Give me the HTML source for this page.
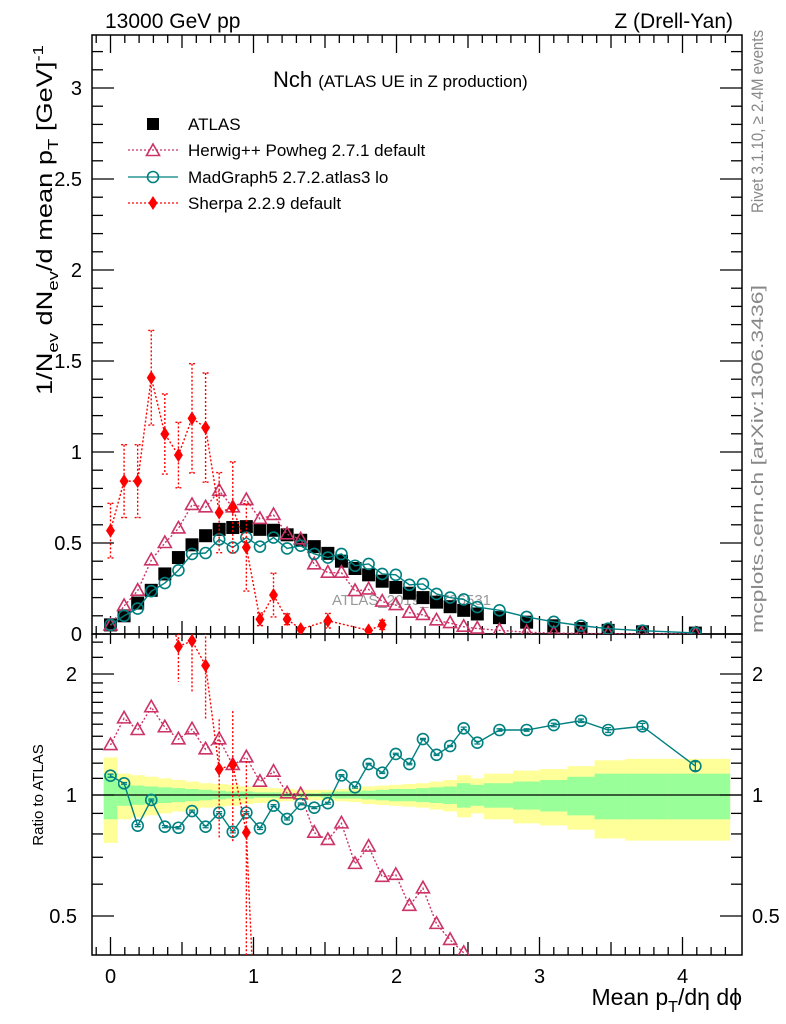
<!DOCTYPE html>
<html><head><meta charset="utf-8"><style>
html,body{margin:0;padding:0;background:#fff;width:786px;height:1024px;overflow:hidden;}
svg{display:block;font-family:"Liberation Sans",sans-serif;overflow:hidden;}
</style></head><body>
<svg id="chart" width="786" height="1024" viewBox="0 0 786 1024" xmlns="http://www.w3.org/2000/svg">
<defs>
<clipPath id="clipMain"><rect x="92" y="35" width="650" height="599"/></clipPath>
<clipPath id="clipRatio"><rect x="92" y="634" width="650" height="321"/></clipPath>
</defs>
<text x="105" y="28" font-size="21">13000 GeV pp</text>
<text x="733" y="28" font-size="21" text-anchor="end">Z (Drell-Yan)</text>
<text x="273" y="87" font-size="22">Nch <tspan font-size="17">(ATLAS UE in Z production)</tspan></text>
<text transform="translate(52,395) rotate(-90)" font-size="22" textLength="350" lengthAdjust="spacingAndGlyphs">1/N<tspan font-size="15" dy="6">ev</tspan><tspan dy="-6"> dN</tspan><tspan font-size="15" dy="6">ev</tspan><tspan dy="-6">/d mean p</tspan><tspan font-size="15" dy="6">T</tspan><tspan dy="-6">  [GeV]</tspan><tspan font-size="15" dy="-9">-1</tspan></text>
<text transform="translate(43,795) rotate(-90)" text-anchor="middle" font-size="15">Ratio to ATLAS</text>
<text x="742" y="1005" text-anchor="end" font-size="23">Mean p<tspan font-size="16" dy="7">T</tspan><tspan dy="-7">/dη dϕ</tspan></text>
<text transform="translate(763,213) rotate(-90)" font-size="17" fill="#888" textLength="183" lengthAdjust="spacingAndGlyphs">Rivet 3.1.10, ≥ 2.4M events</text>
<text transform="translate(763,633) rotate(-90)" font-size="17" fill="#888" textLength="348" lengthAdjust="spacingAndGlyphs">mcplots.cern.ch [arXiv:1306.3436]</text>
<text x="332" y="605" font-size="15" fill="#999">ATLAS_2019_I1736531</text>
<g id="bands" clip-path="url(#clipRatio)"></g>
<g id="axes"></g>
<g id="mainSeries" clip-path="url(#clipMain)"></g>
<g id="ratioSeries" clip-path="url(#clipRatio)"></g>
<g id="legend"></g>
</svg>
<script>
const xVals=[0,0.095,0.19,0.285,0.38,0.475,0.57,0.665,0.76,0.855,0.95,1.045,1.14,1.235,1.33,1.425,1.52,1.615,1.71,1.805,1.9,1.995,2.09,2.185,2.28,2.375,2.47,2.565,2.72,2.91,3.10,3.29,3.48,3.72,4.09];
const binEdges=[-0.0475,0.0475,0.1425,0.2375,0.3325,0.4275,0.5225,0.6175,0.7125,0.8075,0.9025,0.9975,1.0925,1.1875,1.2825,1.3775,1.4725,1.5675,1.6625,1.7575,1.8525,1.9475,2.0425,2.1375,2.2325,2.3275,2.4225,2.5175,2.6125,2.815,3.005,3.195,3.385,3.60,3.90,4.33];
const atlasVals=[0.05,0.10,0.17,0.24,0.33,0.42,0.49,0.54,0.575,0.585,0.59,0.575,0.57,0.545,0.515,0.48,0.443,0.40,0.36,0.325,0.29,0.256,0.224,0.20,0.175,0.15,0.13,0.11,0.09,0.065,0.045,0.03,0.02,0.012,0.005];
const herwigVals=[0.047,0.154,0.238,0.405,0.50,0.58,0.709,0.696,0.787,0.696,0.736,0.632,0.654,0.548,0.52,0.383,0.337,0.337,0.236,0.245,0.178,0.159,0.117,0.105,0.075,0.06,0.04,0.03,0.02,0.01,0.005,0.003,0.002,0.001,0.001];
const madgraphVals=[0.05,0.10,0.14,0.235,0.28,0.35,0.44,0.445,0.52,0.475,0.53,0.48,0.53,0.47,0.485,0.44,0.42,0.44,0.375,0.385,0.33,0.325,0.27,0.275,0.22,0.20,0.19,0.148,0.13,0.094,0.067,0.046,0.029,0.018,0.006];
const sherpaVals=[0.568,0.84,0.84,1.408,1.099,0.983,1.185,1.134,0.667,0.696,0.476,0.081,0.214,0.081,0.027,null,0.073,null,null,0.02,0.05,null,null,null,null,null,null,null,null,null,null,null,null,null,null];
const sherpaErrs=[0.15,0.2,0.2,0.26,0.22,0.18,0.3,0.3,0.22,0.25,0.24,0.035,0.12,0.03,0.01,0,0.04,0,0,0.01,0.025,0,0,0,0,0,0,0,0,0,0,0,0,0,0];
const herwigRatio=[1.331,1.551,1.451,1.653,1.474,1.376,1.457,1.299,1.376,1.188,1.241,1.079,1.143,1.01,1.004,0.806,0.773,0.85,0.674,0.744,0.626,0.633,0.53,0.586,0.478,0.436,0.405,0.35,0.3,0.25,0.2,0.15,0.12,0.1,0.1];
const madgraphRatio=[1.117,1.069,0.839,0.972,0.834,0.829,0.912,0.834,0.904,0.81,0.904,0.826,0.941,0.872,0.95,0.93,0.954,1.119,1.045,1.194,1.136,1.265,1.194,1.378,1.259,1.324,1.465,1.349,1.451,1.451,1.493,1.53,1.451,1.482,1.18];
const madgraphRatioErr=[0.01,0.005,0.005,0.005,0.005,0.005,0.005,0.005,0.005,0.005,0.005,0.005,0.005,0.005,0.005,0.005,0.005,0.005,0.005,0.005,0.005,0.005,0.005,0.005,0.005,0.005,0.01,0.01,0.01,0.01,0.015,0.015,0.02,0.025,0.03];
const bandYellow=[0.24,0.13,0.12,0.11,0.10,0.09,0.08,0.07,0.065,0.06,0.05,0.045,0.04,0.035,0.03,0.03,0.03,0.035,0.04,0.05,0.055,0.06,0.065,0.07,0.08,0.09,0.12,0.10,0.13,0.15,0.16,0.18,0.22,0.23,0.23];
const bandGreen=[0.13,0.06,0.055,0.05,0.045,0.04,0.035,0.03,0.025,0.02,0.02,0.015,0.015,0.01,0.01,0.01,0.015,0.02,0.02,0.025,0.03,0.035,0.035,0.04,0.045,0.05,0.07,0.06,0.07,0.08,0.09,0.11,0.13,0.13,0.13];
const mainTickLabels=["0","0.5","1","1.5","2","2.5","3"];
const mainTickVals=[0,0.5,1,1.5,2,2.5,3];
const ratioTickLabels=["0.5","1","2"];
const ratioTickVals=[0.5,1,2];
const xTickLabels=["0","1","2","3","4"];
const xTickVals=[0,1,2,3,4];

const NS="http://www.w3.org/2000/svg";
const X=v=>110.5+143*v;
const YM=v=>634-182*v;
const YR=r=>795-174.6*Math.log(r);
function mk(tag,attrs,parent){const e=document.createElementNS(NS,tag);for(const k in attrs)e.setAttribute(k,attrs[k]);parent.appendChild(e);return e;}
const axes=document.getElementById('axes'),bands=document.getElementById('bands'),ms=document.getElementById('mainSeries'),rs=document.getElementById('ratioSeries'),lg=document.getElementById('legend');
const HER='#cc3366',MG='#008080',SH='#ff0000';

for(let i=0;i<bandYellow.length;i++){
  const x0=X(binEdges[i]),x1=X(binEdges[i+1]);
  const ry=mk('rect',{x:x0,y:YR(1+bandYellow[i]),width:x1-x0+0.5,height:YR(1-bandYellow[i])-YR(1+bandYellow[i]),fill:'#ffff99'},bands);
  
  
  const rg=mk('rect',{x:x0,y:YR(1+bandGreen[i]),width:x1-x0+0.5,height:YR(1-bandGreen[i])-YR(1+bandGreen[i]),fill:'#99ff99'},bands);
  
  
}
const ul=mk('line',{x1:92,x2:742,y1:YR(1),y2:YR(1),stroke:'#000','stroke-width':1.3},bands);



const f1=mk('rect',{x:92,y:35,width:650,height:599,fill:'none',stroke:'#000','stroke-width':1.5},axes);


const f2=mk('rect',{x:92,y:634,width:650,height:321,fill:'none',stroke:'#000','stroke-width':1.5},axes);


function tick(x1,y1,x2,y2){const t=mk('line',{x1,y1,x2,y2,stroke:'#000','stroke-width':1.3},axes);}
for(let k=-1;k<=43;k++){const v=k/10;const px=X(v);if(px<93||px>741)continue;
  const L=(k%10===0)?18:(k%5===0?13:8);
  tick(px,35,px,35+L);tick(px,634,px,634-L);tick(px,634,px,634+L*0.55);tick(px,955,px,955-L);}
xTickVals.forEach((v,i)=>{const t=mk('text',{x:X(v),y:983,'text-anchor':'middle','font-size':20},axes);t.textContent=xTickLabels[i];});
for(let k=1;k<=32;k++){const v=k/10,py=YM(v);const L=(k%5===0)?22:11;tick(92,py,92+L,py);tick(742,py,742-L,py);}
mainTickVals.forEach((v,i)=>{const t=mk('text',{x:82,y:YM(v)+7,'text-anchor':'end','font-size':20},axes);t.textContent=mainTickLabels[i];});
const rmin=[0.4,0.6,0.7,0.8,0.9,1.1,1.2,1.3,1.4,1.5,1.6,1.7,1.8,1.9,2.2,2.4];
rmin.forEach(r=>{const py=YR(r);if(py<635||py>954)return;tick(92,py,103,py);tick(742,py,731,py);});
ratioTickVals.forEach((r,i)=>{const py=YR(r);tick(92,py,114,py);tick(742,py,720,py);
  const t=mk('text',{x:77,y:py+7,'text-anchor':'end','font-size':20},axes);t.textContent=ratioTickLabels[i];
  const t2=mk('text',{x:752,y:py+7,'font-size':20},axes);t2.textContent=ratioTickLabels[i];});

function square(g,x,y,s){return mk('rect',{x:x-s/2,y:y-s/2,width:s,height:s,fill:'#000'},g);}
function tri(g,x,y,c){return mk('path',{d:`M${x},${y-7}L${x+6.5},${y+4.5}L${x-6.5},${y+4.5}Z`,fill:'none',stroke:c,'stroke-width':1.6},g);}
function circ(g,x,y,c){return mk('circle',{cx:x,cy:y,r:5.5,fill:'none',stroke:c,'stroke-width':1.6},g);}
function diam(g,x,y,c){return mk('path',{d:`M${x},${y-7}L${x+4.5},${y}L${x},${y+7}L${x-4.5},${y}Z`,fill:c},g);}
function polyline(g,xs,ys,c,dash){const pts=[];xs.forEach((x,i)=>{if(ys[i]!=null)pts.push(x+','+ys[i]);});
  const p=mk('polyline',{points:pts.join(' '),fill:'none',stroke:c,'stroke-width':1.4},g);if(dash)p.setAttribute('stroke-dasharray','2,2');return p;}

atlasVals.forEach((v,i)=>{const e=square(ms,X(xVals[i]),YM(v),13);});
let l=polyline(ms,xVals.map(X),herwigVals.map(YM),HER,true);


herwigVals.forEach((v,i)=>{const e=tri(ms,X(xVals[i]),YM(v),HER);});
l=polyline(ms,xVals.map(X),madgraphVals.map(YM),MG,false);


madgraphVals.forEach((v,i)=>{const e=circ(ms,X(xVals[i]),YM(v),MG);});
l=polyline(ms,xVals.map(X),sherpaVals.map(v=>v==null?null:YM(v)),SH,true);


sherpaVals.forEach((v,i)=>{if(v==null)return;const x=X(xVals[i]);
  const eb=mk('path',{d:`M${x},${YM(v+sherpaErrs[i])}V${YM(Math.max(0,v-sherpaErrs[i]))}M${x-3},${YM(v+sherpaErrs[i])}h6M${x-3},${YM(Math.max(0,v-sherpaErrs[i]))}h6`,stroke:SH,'stroke-width':1.4,'stroke-dasharray':'2,2',fill:'none'},ms);
  
  
  const e=diam(ms,x,YM(v),SH);});

l=polyline(rs,xVals.map(X),herwigRatio.map(YR),HER,true);


herwigRatio.forEach((r,i)=>{const e=tri(rs,X(xVals[i]),YR(r),HER);});
l=polyline(rs,xVals.map(X),madgraphRatio.map(YR),MG,false);


madgraphRatio.forEach((r,i)=>{const x=X(xVals[i]);
  const eb=mk('path',{d:`M${x},${YR(r+madgraphRatioErr[i])}V${YR(r-madgraphRatioErr[i])}M${x-3},${YR(r+madgraphRatioErr[i])}h6M${x-3},${YR(r-madgraphRatioErr[i])}h6`,stroke:MG,'stroke-width':1.3,fill:'none'},rs);
  
  
  const e=circ(rs,x,YR(r),MG);});
const shR=sherpaVals.map((v,i)=>v==null?null:v/atlasVals[i]);
l=polyline(rs,xVals.map(X),shR.map(r=>r==null?null:YR(r)),SH,true);


shR.forEach((r,i)=>{if(r==null||r<0.4)return;const x=X(xVals[i]);const er=sherpaErrs[i]/atlasVals[i];
  const eb=mk('path',{d:`M${x},${YR(r+er)}V${YR(Math.max(0.01,r-er))}`,stroke:SH,'stroke-width':1.4,'stroke-dasharray':'2,2',fill:'none'},rs);
  
  
  const e=diam(rs,x,YR(r),SH);});

const legNames=['ATLAS','Herwig++ Powheg 2.7.1 default','MadGraph5 2.7.2.atlas3 lo','Sherpa 2.2.9 default'];
const legY=[124,150,177,203];
legNames.forEach((n,i)=>{const y=legY[i];const g=mk('g',{},lg);
  
  
  if(i===0)square(g,153,y,12);
  if(i===1){mk('line',{x1:128,x2:178,y1:y,y2:y,stroke:HER,'stroke-width':1.3,'stroke-dasharray':'2,2'},g);tri(g,153,y+1,HER);}
  if(i===2){mk('line',{x1:128,x2:178,y1:y,y2:y,stroke:MG,'stroke-width':1.3},g);circ(g,153,y,MG);}
  if(i===3){mk('line',{x1:128,x2:178,y1:y,y2:y,stroke:SH,'stroke-width':1.3,'stroke-dasharray':'2,2'},g);diam(g,153,y,SH);}
  const t=mk('text',{x:188,y:y+6,'font-size':17},g);t.textContent=n;});
</script>
</body></html>
